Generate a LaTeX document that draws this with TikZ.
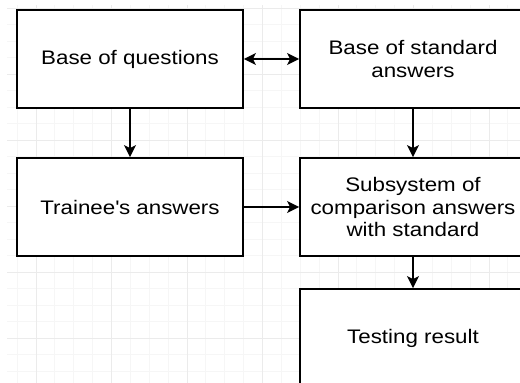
\documentclass[tikz,border=0pt]{standalone}
\usepackage{fontspec}
\setmainfont[FakeStretch=1.14]{Liberation Sans}
\usetikzlibrary{arrows.meta}
\usetikzlibrary{positioning}
\definecolor{gridminor}{HTML}{F6F6F6}
\definecolor{gridmajor}{HTML}{EBEBEB}
\tikzset{
  >={Stealth[length=12pt,width=12pt,inset=3pt]},
  block/.style={draw, line width=1.8pt, fill=white,
      minimum width=226pt, minimum height=98pt, align=center,
      font=\fontsize{19.6}{22.5}\selectfont},
  link/.style={line width=1.5pt, ->},
  twolink/.style={line width=1.5pt, <->},
}

\begin{document}
\begin{tikzpicture}[x=1pt, y=-1pt]
      \useasboundingbox (0,0) rectangle (520,383);
      \clip (0,0) rectangle (520,383);

      % grid
      \foreach \i in {0,...,27}
        \draw [gridminor, line width=0.8pt] ({17.125+18.875*\i},5) -- ({17.125+18.875*\i},383);
      \foreach \i in {0,...,23}
        \draw [gridminor, line width=0.8pt] (7,{8+16.5*\i}) -- (520,{8+16.5*\i});
      \foreach \i in {0,...,6}
        \draw [gridmajor, line width=1pt] ({36+75.5*\i},5) -- ({36+75.5*\i},383);
      \foreach \i in {0,...,5}
        \draw [gridmajor, line width=1pt] (7,{8+66*\i}) -- (520,{8+66*\i});

      \node [block] (questions) at (130,59) {Base of questions};
      \node [block] (standard) at (413,59) {Base of standard\\answers};
      \node [block] (trainee) at (130,207) {Trainee\textquotesingle s answers};
      \node [block] (compare) at (413,207) {Subsystem of\\comparison answers\\with standard};
      \node [block] (result) at (413,338) {Testing result};

      \draw [twolink] (questions) -- (standard);
      \draw [link] (questions) -- (trainee);
      \draw [link] (standard) -- (compare);
      \draw [link] (trainee) -- (compare);
      \draw [link] (compare) -- (result);

    \end{tikzpicture}
\end{document}
